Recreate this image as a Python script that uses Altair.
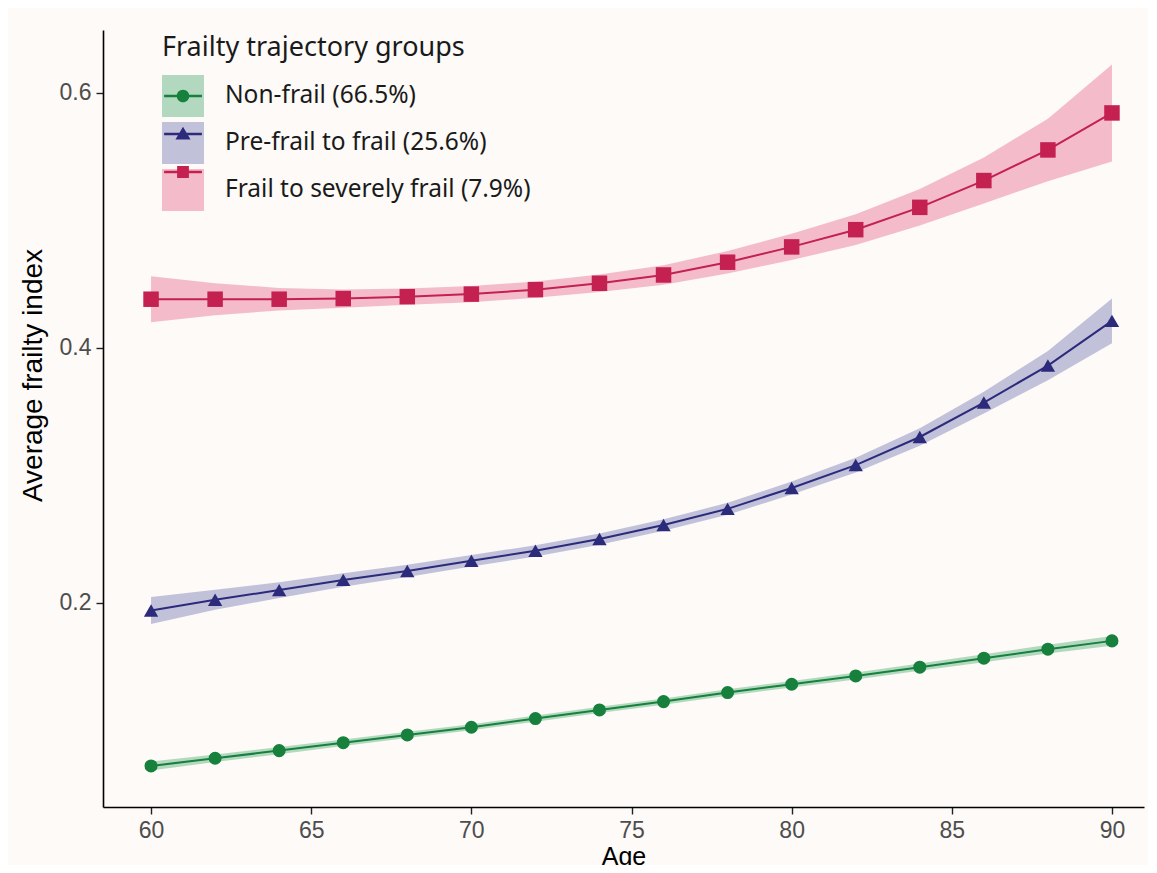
import altair as alt
import pandas as pd

ages = [60, 62, 64, 66, 68, 70, 72, 74, 76, 78, 80, 82, 84, 86, 88, 90]
groups = ["Non-frail (66.5%)", "Pre-frail to frail (25.6%)", "Frail to severely frail (7.9%)"]
keys = ["nf", "pf", "fs"]

nonfrail = [0.0722, 0.0782, 0.0842, 0.0904, 0.0965, 0.1025, 0.1093, 0.1161,
            0.1226, 0.1297, 0.1362, 0.1427, 0.1496, 0.1566, 0.1637, 0.1702]
nonfrail_half = [0.0035, 0.0030, 0.0028, 0.0026, 0.0025, 0.0024, 0.0024, 0.0024,
                 0.0024, 0.0025, 0.0026, 0.0027, 0.0029, 0.0031, 0.0034, 0.0038]
prefrail = [0.1940, 0.2024, 0.2100, 0.2180, 0.2250, 0.2330, 0.2408, 0.2500,
            0.2610, 0.2737, 0.2900, 0.3080, 0.3300, 0.3570, 0.3860, 0.4210]
prefrail_half = [0.0105, 0.0078, 0.0062, 0.0053, 0.0048, 0.0045, 0.0044, 0.0044,
                 0.0045, 0.0047, 0.0051, 0.0058, 0.0068, 0.0085, 0.0115, 0.0175]
frail = [0.4380, 0.4380, 0.4380, 0.4385, 0.4400, 0.4420, 0.4455, 0.4505,
         0.4570, 0.4670, 0.4790, 0.4925, 0.5100, 0.5310, 0.5550, 0.5840]
frail_half = [0.0180, 0.0125, 0.0088, 0.0072, 0.0064, 0.0063, 0.0064, 0.0068,
              0.0077, 0.0088, 0.0103, 0.0120, 0.0143, 0.0180, 0.0245, 0.0380]

dark = ["#16803c", "#2c2a7a", "#c42050"]
light = ["#b2d9bf", "#c2c1da", "#f4bccb"]

# legend key glyphs: line across the key with the marker in the middle
key_paths = [
    "M-0.9,-0.055L0.9,-0.055L0.9,0.055L-0.9,0.055Z"
    "M-0.3,0A0.3,0.3 0 1,1 0.3,0A0.3,0.3 0 1,1 -0.3,0Z",
    "M-0.9,-0.055L0.9,-0.055L0.9,0.055L-0.9,0.055Z"
    "M0,-0.34L0.36,0.26L-0.36,0.26Z",
    "M-0.9,-0.055L0.9,-0.055L0.9,0.055L-0.9,0.055Z"
    "M-0.28,-0.28L0.28,-0.28L0.28,0.28L-0.28,0.28Z",
]

rows = []
for g, k, vals, half in [
    (groups[0], keys[0], nonfrail, nonfrail_half),
    (groups[1], keys[1], prefrail, prefrail_half),
    (groups[2], keys[2], frail, frail_half),
]:
    for a, v, h in zip(ages, vals, half):
        rows.append({"age": a, "group": g, "key": k, "value": v,
                     "lower": v - h, "upper": v + h})
df = pd.DataFrame(rows)

xscale = alt.Scale(domain=[58.5, 91.0], nice=False, zero=False)
yscale = alt.Scale(domain=[0.04, 0.649], nice=False, zero=False)

xenc = alt.X("age:Q", scale=xscale,
             axis=alt.Axis(values=[60, 65, 70, 75, 80, 85, 90], title="Age",
                           titleY=37, titleFontSize=25))
yaxis = alt.Axis(values=[0.2, 0.4, 0.6], format=".1f",
                 title="Average frailty index", titleX=-56, titleY=345,
                 titleFontSize=28)

LEG_X = 59
LEG_Y = 5
common_leg = dict(
    orient="none", legendX=LEG_X, legendY=LEG_Y, direction="vertical",
    symbolSize=1764, rowPadding=5, labelOffset=21, padding=0,
    labelFont="Noto Sans", labelFontSize=24.5, labelColor="#1a1a1a",
    labelLimit=500, title="Frailty trajectory groups", titleFont="Noto Sans",
    titleFontSize=27, titleFontWeight="normal", titleColor="#1a1a1a",
    titlePadding=13, titleLimit=500, symbolStrokeWidth=0, symbolOpacity=1,
)

base = alt.Chart(df)

band = base.mark_area(opacity=1).encode(
    x=xenc,
    y=alt.Y("lower:Q", scale=yscale, axis=yaxis),
    y2="upper:Q",
    fill=alt.Fill("group:N", scale=alt.Scale(domain=groups, range=light),
                  legend=alt.Legend(symbolType="square", **common_leg)),
)

line = base.mark_line(strokeWidth=2).encode(
    x=xenc,
    y=alt.Y("value:Q", scale=yscale, axis=yaxis),
    stroke=alt.Stroke("key:N", scale=alt.Scale(domain=keys, range=dark), legend=None),
)

points = base.mark_point(filled=True, opacity=1).encode(
    x=xenc,
    y=alt.Y("value:Q", scale=yscale, axis=yaxis),
    color=alt.Color("key:N", scale=alt.Scale(domain=keys, range=dark), legend=None),
    shape=alt.Shape("key:N", scale=alt.Scale(domain=keys, range=["circle", "triangle-up", "square"]),
                    legend=None),
    size=alt.Size("key:N", scale=alt.Scale(domain=keys, range=[170, 240, 160]), legend=None),
)

dummy_leg = dict(common_leg)
dummy_leg.update(titleOpacity=0, labelOpacity=0, labelExpr="''")
keyglyphs = base.mark_point(filled=True, opacity=1, size=0).encode(
    x=xenc,
    y=alt.Y("value:Q", scale=yscale, axis=yaxis),
    color=alt.Color("key:N", scale=alt.Scale(domain=keys, range=dark),
                    legend=alt.Legend(**dummy_leg)),
    shape=alt.Shape("key:N", scale=alt.Scale(domain=keys, range=key_paths),
                    legend=alt.Legend(**dummy_leg)),
)

chart = alt.layer(band, line, points, keyglyphs).resolve_scale(
    color="independent", shape="independent"
).properties(
    width=1041, height=777,
    padding={"left": 95, "top": 22, "right": 4, "bottom": 58},
    autosize=alt.AutoSizeParams(type="none"),
).configure(
    background="#fdfaf8",
).configure_view(
    stroke=None,
).configure_axis(
    grid=False, domainColor="#000000", domainWidth=1.6,
    tickColor="#222222", tickWidth=1.4, tickSize=7,
    labelColor="#4d4d4d", labelFont="Liberation Sans", labelFontSize=23,
    labelPadding=5, titleFont="Liberation Sans", titleFontSize=27,
    titleFontWeight="normal", titleColor="#000000",
)

chart.save("out.html", embed_options={"renderer": "svg", "actions": False})
